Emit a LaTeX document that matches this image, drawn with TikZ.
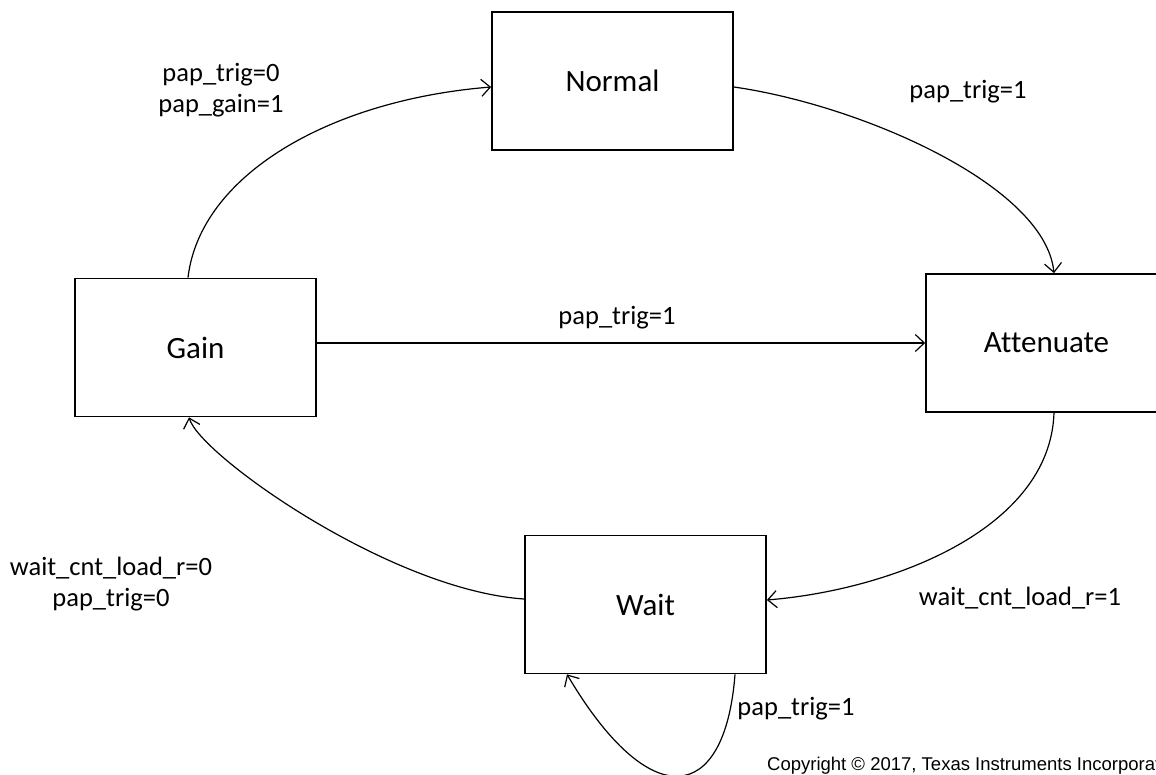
\documentclass[tikz,border=0pt]{standalone}
\usepackage{fontspec}
\setmainfont{Carlito}[Ligatures=NoCommon]
\newfontfamily\arialfont{Liberation Sans}
\usetikzlibrary{arrows.meta,calc}
\begin{document}
\begin{tikzpicture}[x=1pt,y=-1pt,
  state/.style={draw,line width=1.7pt,minimum width=241pt,minimum height=138pt,inner sep=0pt,font=\fontsize{31}{36}\selectfont},
  lbl/.style={font=\fontsize{26.5}{31}\selectfont,inner sep=0pt,align=center},
  conn/.style={line width=1.2pt,-{Straight Barb[length=9pt,width=17pt,line width=1.2pt]}}]
\useasboundingbox (0,0) rectangle (1156,775);
\node[state] (Normal) at (612.5,81) {Normal};
\node[state] (Gain) at (195.5,347.5) {Gain};
\node[state] (Att) at (1046.5,343) {Attenuate};
\node[state] (Wait) at (645.5,604.5) {Wait};
% connectors
\draw[conn] ($(Gain.north)+(-7.5,0)$) .. controls (200,175) and (330,100) .. ($(Normal.west)+(0,6)$);
\draw[conn] ($(Normal.east)+(0,6)$) .. controls (860,105) and (1045,185) .. ($(Att.north)+(7.5,0)$);
\draw[conn] ($(Gain.east)+(0,-4.5)$) -- (Att.west);
\draw[conn] ($(Att.south)+(7.5,0)$) .. controls (1050,530) and (890,590) .. ($(Wait.east)+(0,-4.5)$);
\draw[conn] ($(Wait.west)+(0,-5.5)$) .. controls (390,590) and (200,455) .. ($(Gain.south)+(-6.5,0)$);
\draw[conn] ($(Wait.south)+(89.5,0)$) .. controls (725,805) and (650,815) .. ($(Wait.south)+(-78.5,0)$);
% labels
\node[lbl] (l1) at (221,90) {pap\_trig=0\\pap\_gain=1};
\node[lbl] (l2) at (968,92) {pap\_trig=1};
\node[lbl] (l3) at (617,318) {pap\_trig=1};
\node[lbl] (l4) at (111,584) {wait\_cnt\_load\_r=0\\pap\_trig=0};
\node[lbl] (l5) at (1020,598) {wait\_cnt\_load\_r=1};
\node[lbl] (l6) at (796,709) {pap\_trig=1};
\node[anchor=base west,inner sep=0pt,font=\arialfont\fontsize{18.5}{22}\selectfont] (copy) at (767,770) {Copyright © 2017, Texas Instruments Incorporated};
\end{tikzpicture}
\end{document}
